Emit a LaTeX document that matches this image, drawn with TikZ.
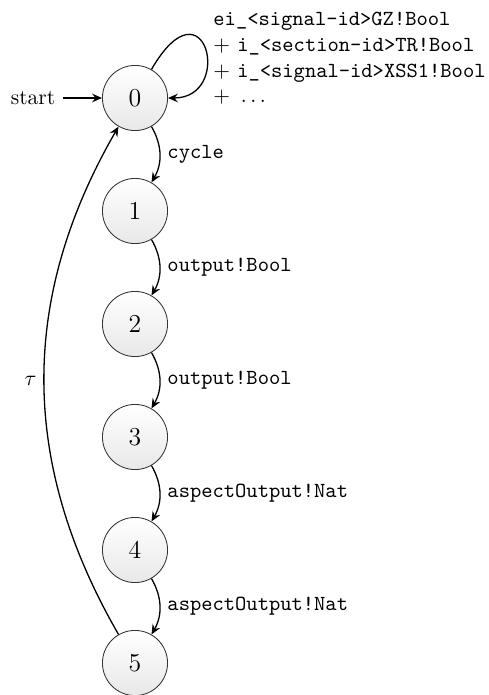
\documentclass[tikz,border=0pt]{standalone}
\usepackage{fontspec}
\usetikzlibrary{arrows.meta}
\begin{document}
\begin{tikzpicture}[
  x=0.4652pt, y=-0.4652pt,
  state/.style={circle, draw=black!80, line width=0.4pt,
    top color=white, bottom color=gray!18,
    minimum size=30.3pt, inner sep=0pt, font=\large},
  trans/.style={line width=0.6pt, -{Stealth[length=4.6pt,width=4pt,inset=1.6pt]}},
  lbl/.style={font=\ttfamily}
]
\useasboundingbox (0,0) rectangle (488,695);

% states
\node[state] (n0) at (135,98)  {0};
\node[state] (n1) at (135,211) {1};
\node[state] (n2) at (135,324) {2};
\node[state] (n3) at (135,437) {3};
\node[state] (n4) at (135,550) {4};
\node[state] (n5) at (135,663) {5};

% initial marker
\node (start) at (33,98) {start};
\draw[trans] (start) -- (n0);

% self loop on the initial state
\draw[trans] (n0) to[out=60, in=0, out distance=50pt, in distance=31pt] (n0);
\node[anchor=west, align=left, inner sep=0pt] (loopLabel) at (213,58.5)
  {\texttt{ei\_<signal-id>GZ!Bool}\\
   $+$ \texttt{i\_<section-id>TR!Bool}\\
   $+$ \texttt{i\_<signal-id>XSS1!Bool}\\
   $+\ \dots$};

% forward chain
\draw[trans] (n0) to[bend left=30] node[right, lbl] (l01) {cycle} (n1);
\draw[trans] (n1) to[bend left=30] node[right, lbl] (l12) {output!Bool} (n2);
\draw[trans] (n2) to[bend left=30] node[right, lbl] (l23) {output!Bool} (n3);
\draw[trans] (n3) to[bend left=30] node[right, lbl] (l34) {aspectOutput!Nat} (n4);
\draw[trans] (n4) to[bend left=30] node[right, lbl] (l45) {aspectOutput!Nat} (n5);

% back edge
\draw[trans] (n5) to[bend left=30] node[left] (l50) {$\tau$} (n0);
\end{tikzpicture}
\end{document}
